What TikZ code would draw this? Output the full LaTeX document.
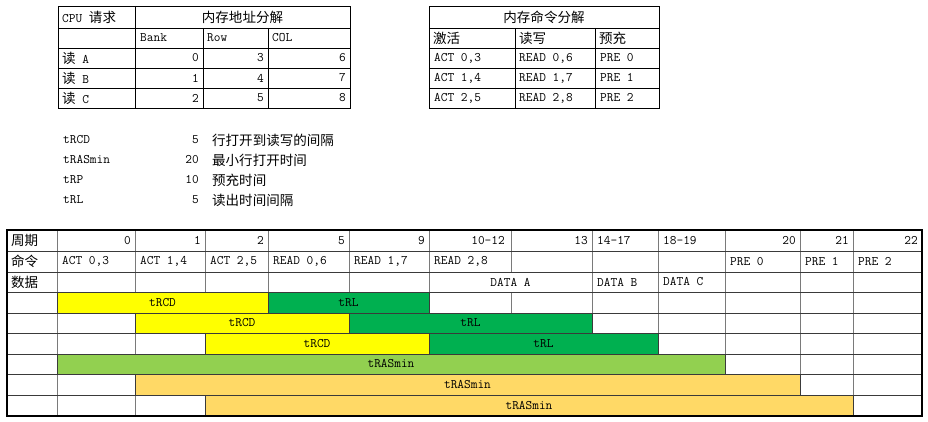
\documentclass[tikz,border=0pt]{standalone}
\usepackage{fontspec}
\newfontfamily\cjk[Scale=1.04]{Noto Sans CJK SC}
\definecolor{cyel}{HTML}{FFFF00}
\definecolor{cgrn}{HTML}{00B050}
\definecolor{clgr}{HTML}{92D050}
\definecolor{corg}{HTML}{FFD966}
\definecolor{hline}{HTML}{3A3A3A}
\definecolor{vline}{HTML}{7A7A7A}
\newcommand{\zh}[1]{{\cjk #1}}
\begin{document}
\begin{tikzpicture}[x=1pt,y=-1pt,
  every node/.style={inner sep=0pt, font=\fontsize{13}{15}\selectfont\ttfamily},
  tl/.style={anchor=west},
  tr/.style={anchor=east},
  tc/.style={anchor=center},
  tbl/.style={draw=black, line width=0.8pt},
  hgrid/.style={draw=hline, line width=0.7pt},
  vgrid/.style={draw=vline, line width=0.7pt},
  bar/.style={draw=hline, line width=0.7pt},
  outer/.style={draw=black, line width=1.2pt}]
\useasboundingbox (0,0) rectangle (928,422);

% ---------- top-left table ----------
\draw[tbl] (58,6) rectangle (350,108);
\foreach \yy in {28,48,68,88} \draw[tbl] (58,\yy) -- (350,\yy);
\draw[tbl] (135,6) -- (135,108);
\draw[tbl] (203,28) -- (203,108);
\draw[tbl] (268,28) -- (268,108);
\node[tl] (cpu) at (62,17) {CPU \zh{请求}};
\node[tc] (addr) at (242.5,17) {\zh{内存地址分解}};
\node[tl] (bank) at (140,38) {Bank};
\node[tl] (row) at (207,38) {Row};
\node[tl] (col) at (272,38) {COL};
\node[tl] (ra) at (62,58) {\zh{读} A};
\node[tl] (rb) at (62,78) {\zh{读} B};
\node[tl] (rc) at (62,98) {\zh{读} C};
\node[tr] (a1) at (199,58) {0};
\node[tr] (a2) at (264,58) {3};
\node[tr] (a3) at (346,58) {6};
\node[tr] (b1) at (199,78) {1};
\node[tr] (b2) at (264,78) {4};
\node[tr] (b3) at (346,78) {7};
\node[tr] (c1) at (199,98) {2};
\node[tr] (c2) at (264,98) {5};
\node[tr] (c3) at (346,98) {8};

% ---------- top-right table ----------
\draw[tbl] (429,6) rectangle (659,108);
\foreach \yy in {28,48,68,88} \draw[tbl] (429,\yy) -- (659,\yy);
\draw[tbl] (515,28) -- (515,108);
\draw[tbl] (595,28) -- (595,108);
\node[tc] (cmd) at (544,17) {\zh{内存命令分解}};
\node[tl] (jh) at (433,38) {\zh{激活}};
\node[tl] (dx) at (519,38) {\zh{读写}};
\node[tl] (yc) at (599,38) {\zh{预充}};
\node[tl] (m11) at (434,58) {ACT 0,3};
\node[tl] (m12) at (519,58) {READ 0,6};
\node[tl] (m13) at (600,58) {PRE 0};
\node[tl] (m21) at (434,78) {ACT 1,4};
\node[tl] (m22) at (519,78) {READ 1,7};
\node[tl] (m23) at (600,78) {PRE 1};
\node[tl] (m31) at (434,98) {ACT 2,5};
\node[tl] (m32) at (519,98) {READ 2,8};
\node[tl] (m33) at (600,98) {PRE 2};

% ---------- parameter list ----------
\node[tl] (p1) at (63,140) {tRCD};
\node[tl] (p2) at (63,160) {tRASmin};
\node[tl] (p3) at (63,180) {tRP};
\node[tl] (p4) at (63,200) {tRL};
\node[tr] (v1) at (199,140) {5};
\node[tr] (v2) at (199,160) {20};
\node[tr] (v3) at (199,180) {10};
\node[tr] (v4) at (199,200) {5};
\node[tl] (d1) at (212,140) {\zh{行打开到读写的间隔}};
\node[tl] (d2) at (212,160) {\zh{最小行打开时间}};
\node[tl] (d3) at (212,180) {\zh{预充时间}};
\node[tl] (d4) at (212,200) {\zh{读出时间间隔}};

% ---------- bottom timing table ----------
% vertical grid
\foreach \xx in {57,135,205,268,349,429,592,658,725,800,853}
  \draw[vgrid] (\xx,230) -- (\xx,416);
\draw[vgrid] (511,230) -- (511,272);
\draw[vgrid] (511,292) -- (511,416);
% horizontal grid
\foreach \yy in {251,272,292,313,333,354,374,395}
  \draw[hgrid] (7,\yy) -- (922,\yy);

% bars
\filldraw[bar, fill=cyel] (57,292) rectangle (268,313);
\filldraw[bar, fill=cgrn] (268,292) rectangle (429,313);
\filldraw[bar, fill=cyel] (135,313) rectangle (349,333);
\filldraw[bar, fill=cgrn] (349,313) rectangle (592,333);
\filldraw[bar, fill=cyel] (205,333) rectangle (429,354);
\filldraw[bar, fill=cgrn] (429,333) rectangle (658,354);
\filldraw[bar, fill=clgr] (57,354) rectangle (725,374);
\filldraw[bar, fill=corg] (135,374) rectangle (800,395);
\filldraw[bar, fill=corg] (205,395) rectangle (853,416);

% outer border
\draw[outer] (7,230) rectangle (922,416);

% row 1
\node[tl] (zq) at (11,240.5) {\zh{周期}};
\node[tr] (t0) at (131,240.5) {0};
\node[tr] (t1) at (201,240.5) {1};
\node[tr] (t2) at (264,240.5) {2};
\node[tr] (t5) at (345,240.5) {5};
\node[tr] (t9) at (425,240.5) {9};
\node[tr] (t10) at (505,240.5) {10-12};
\node[tr] (t13) at (588,240.5) {13};
\node[tl] (t14) at (597,240.5) {14-17};
\node[tl] (t18) at (663,240.5) {18-19};
\node[tr] (t20) at (796,240.5) {20};
\node[tr] (t21) at (849,240.5) {21};
\node[tr] (t22) at (918,240.5) {22};
% row 2
\node[tl] (ml) at (11,261.5) {\zh{命令}};
\node[tl] (k1) at (62,261.5) {ACT 0,3};
\node[tl] (k2) at (140,261.5) {ACT 1,4};
\node[tl] (k3) at (210,261.5) {ACT 2,5};
\node[tl] (k4) at (273,261.5) {READ 0,6};
\node[tl] (k5) at (354,261.5) {READ 1,7};
\node[tl] (k6) at (434,261.5) {READ 2,8};
\node[tl] (k10) at (730,261.5) {PRE 0};
\node[tl] (k11) at (805,261.5) {PRE 1};
\node[tl] (k12) at (858,261.5) {PRE 2};
% row 3
\node[tl] (sj) at (11,282) {\zh{数据}};
\node[tc] (da) at (510.5,282) {DATA A};
\node[tl] (db) at (597,282) {DATA B};
\node[tl] (dc) at (663,282) {DATA C};
% bar labels
\node[tc] (r4a) at (162.5,302.5) {tRCD};
\node[tc] (r4b) at (348.5,302.5) {tRL};
\node[tc] (r5a) at (242,323) {tRCD};
\node[tc] (r5b) at (470.5,323) {tRL};
\node[tc] (r6a) at (317,343.5) {tRCD};
\node[tc] (r6b) at (543.5,343.5) {tRL};
\node[tc] (r7) at (391,364) {tRASmin};
\node[tc] (r8) at (467.5,384.5) {tRASmin};
\node[tc] (r9) at (529,405.5) {tRASmin};
\end{tikzpicture}
\end{document}
